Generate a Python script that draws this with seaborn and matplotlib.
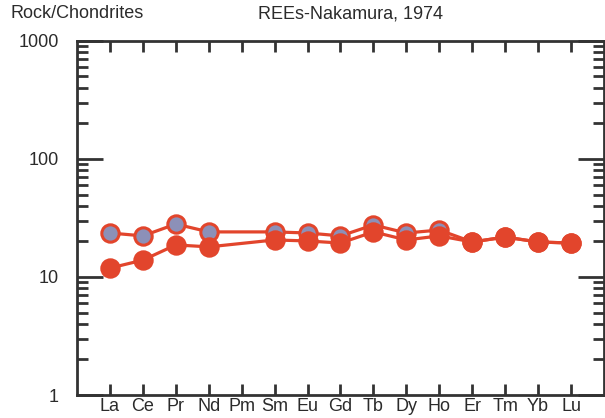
import numpy as np
import pandas as pd
import seaborn as sns
import matplotlib.pyplot as plt
from matplotlib.ticker import LogLocator, NullFormatter, FixedLocator

# chondrite-normalised REE patterns (Pm not measured)
elements = ['La', 'Ce', 'Pr', 'Nd', 'Pm', 'Sm', 'Eu', 'Gd', 'Tb', 'Dy', 'Ho', 'Er', 'Tm', 'Yb', 'Lu']
sample_a = [23.6, 22.3, 28.1, 24.1, np.nan, 24.1, 23.6, 22.3, 27.6, 23.6, 25.0, 19.8, 21.8, 19.8, 19.4]
sample_b = [11.9, 13.9, 18.7, 18.0, np.nan, 20.6, 20.2, 19.4, 24.1, 20.6, 22.3, 19.8, 21.8, 19.8, 19.4]

df = pd.DataFrame({
    'pos': list(range(len(elements))) * 2,
    'value': sample_a + sample_b,
    'sample': ['A'] * len(elements) + ['B'] * len(elements),
}).dropna()

sns.set_style('white')
plt.rcParams['font.family'] = ['Liberation Sans', 'DejaVu Sans']

fig = plt.figure(figsize=(6.05, 4.18), dpi=100)
ax = fig.add_axes([0.1273, 0.055, 0.871, 0.847])

red = '#E2452C'
styles = {'A': '#8C90B8', 'B': red}
for name in ['A', 'B']:
    sub = df[df['sample'] == name]
    sns.lineplot(data=sub, x='pos', y='value', ax=ax, color=red, linewidth=2.3,
                 marker='o', markersize=12.5, markerfacecolor=styles[name],
                 markeredgecolor=red, markeredgewidth=2.2, estimator=None,
                 sort=False)

ax.set_yscale('log')
ax.set_ylim(1, 1000)
ax.set_xlim(-1, 15)
ax.set_xlabel('')
ax.set_ylabel('')

ax.xaxis.set_major_locator(FixedLocator(range(len(elements))))
ax.set_xticklabels(elements)
ax.yaxis.set_major_locator(FixedLocator([1, 10, 100, 1000]))
ax.set_yticklabels(['1', '10', '100', '1000'])
ax.yaxis.set_minor_locator(LogLocator(base=10, subs=np.arange(2, 10)))
ax.yaxis.set_minor_formatter(NullFormatter())

for side in ax.spines.values():
    side.set_color('#333333')
    side.set_linewidth(2)

ink = '#2b2b2b'
ax.tick_params(axis='x', which='major', direction='in', length=8, width=2,
               color='#333333', top=True, bottom=True, labelsize=13, pad=2,
               labelcolor=ink)
ax.tick_params(axis='y', which='major', direction='in', length=19, width=2,
               color='#333333', left=True, right=True, labelsize=13, pad=13,
               labelcolor=ink)
ax.tick_params(axis='y', which='minor', direction='in', length=8, width=2,
               color='#333333', left=True, right=True)

fig.text(10 / 605, 1 - 14 / 418, 'Rock/Chondrites', fontsize=13, va='center', ha='left', color=ink)
fig.text(351 / 605, 1 - 14 / 418, 'REEs-Nakamura, 1974', fontsize=13, va='center', ha='center', color=ink)

fig.savefig('out.png', dpi=100)
